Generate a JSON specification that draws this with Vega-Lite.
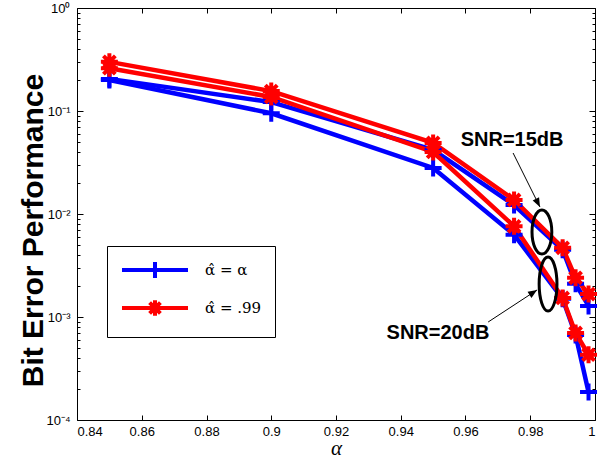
{
  "$schema": "https://vega.github.io/schema/vega-lite/v6.json",
  "width": 518,
  "height": 412,
  "autosize": {"type": "none"},
  "padding": {"left": 77, "top": 8, "right": 13, "bottom": 39},
  "background": "white",
  "config": {
    "view": {"stroke": "black", "strokeWidth": 1},
    "axis": {"grid": false, "domainColor": "black", "tickColor": "black", "labelColor": "black", "labelFont": "Liberation Sans", "labelFontSize": 13, "titleColor": "black"},
    "legend": {
      "orient": "none", "legendX": 30, "legendY": 238, "title": null,
      "padding": 13, "strokeColor": "black", "fillColor": "white",
      "symbolSize": 324, "symbolStrokeWidth": 4, "symbolOffset": 24, "labelOffset": 39,
      "labelFont": "DejaVu Serif", "labelFontSize": 15, "labelColor": "black", "rowPadding": 5,
      "labelExpr": "datum.label + '\u00a0\u00a0\u00a0\u00a0\u00a0\u00a0\u00a0\u00a0'"
    }
  },
  "datasets": {
    "ber": [
      {"a": 0.85, "ber": 0.205, "snr": "15 dB", "method": "α̂ = α"},
      {"a": 0.9, "ber": 0.122, "snr": "15 dB", "method": "α̂ = α"},
      {"a": 0.95, "ber": 0.042, "snr": "15 dB", "method": "α̂ = α"},
      {"a": 0.975, "ber": 0.0122, "snr": "15 dB", "method": "α̂ = α"},
      {"a": 0.99, "ber": 0.0045, "snr": "15 dB", "method": "α̂ = α"},
      {"a": 0.994, "ber": 0.0021, "snr": "15 dB", "method": "α̂ = α"},
      {"a": 0.998, "ber": 0.00128, "snr": "15 dB", "method": "α̂ = α"},
      {"a": 0.85, "ber": 0.2, "snr": "20 dB", "method": "α̂ = α"},
      {"a": 0.9, "ber": 0.095, "snr": "20 dB", "method": "α̂ = α"},
      {"a": 0.95, "ber": 0.028, "snr": "20 dB", "method": "α̂ = α"},
      {"a": 0.975, "ber": 0.0063, "snr": "20 dB", "method": "α̂ = α"},
      {"a": 0.99, "ber": 0.0015, "snr": "20 dB", "method": "α̂ = α"},
      {"a": 0.994, "ber": 0.00067, "snr": "20 dB", "method": "α̂ = α"},
      {"a": 0.998, "ber": 0.000187, "snr": "20 dB", "method": "α̂ = α"},
      {"a": 0.85, "ber": 0.3, "snr": "15 dB", "method": "α̂ = .99"},
      {"a": 0.9, "ber": 0.156, "snr": "15 dB", "method": "α̂ = .99"},
      {"a": 0.95, "ber": 0.049, "snr": "15 dB", "method": "α̂ = .99"},
      {"a": 0.975, "ber": 0.0137, "snr": "15 dB", "method": "α̂ = .99"},
      {"a": 0.99, "ber": 0.0047, "snr": "15 dB", "method": "α̂ = .99"},
      {"a": 0.994, "ber": 0.0024, "snr": "15 dB", "method": "α̂ = .99"},
      {"a": 0.998, "ber": 0.00167, "snr": "15 dB", "method": "α̂ = .99"},
      {"a": 0.85, "ber": 0.26, "snr": "20 dB", "method": "α̂ = .99"},
      {"a": 0.9, "ber": 0.137, "snr": "20 dB", "method": "α̂ = .99"},
      {"a": 0.95, "ber": 0.04, "snr": "20 dB", "method": "α̂ = .99"},
      {"a": 0.975, "ber": 0.0076, "snr": "20 dB", "method": "α̂ = .99"},
      {"a": 0.99, "ber": 0.00153, "snr": "20 dB", "method": "α̂ = .99"},
      {"a": 0.994, "ber": 0.0007, "snr": "20 dB", "method": "α̂ = .99"},
      {"a": 0.998, "ber": 0.00043, "snr": "20 dB", "method": "α̂ = .99"}
    ]
  },
  "resolve": {"axis": {"x": "independent", "y": "independent"}},
  "layer": [
    {
      "data": {"name": "ber"},
      "mark": {"type": "line", "strokeWidth": 4.5},
      "encoding": {
        "x": {
          "field": "a", "type": "quantitative",
          "scale": {"domain": [0.84, 1], "nice": false, "zero": false},
          "axis": {
            "orient": "bottom",
            "values": [0.84, 0.86, 0.88, 0.9, 0.92, 0.94, 0.96, 0.98, 1],
            "format": "~g", "tickSize": -5, "labelPadding": 10, "domain": false,
            "title": "α", "titleFont": "Liberation Serif", "titleFontStyle": "italic", "titleFontWeight": "normal", "titleFontSize": 21,
            "titleY": 34, "titleBaseline": "alphabetic"
          }
        },
        "y": {
          "field": "ber", "type": "quantitative",
          "scale": {"type": "log", "domain": [0.0001, 1], "nice": false},
          "axis": {
            "orient": "left",
            "values": [0.0001, 0.0002, 0.0003, 0.0004, 0.0005, 0.0006, 0.0007, 0.0008, 0.0009, 0.001, 0.002, 0.003, 0.004, 0.005, 0.006, 0.007, 0.008, 0.009, 0.01, 0.02, 0.03, 0.04, 0.05, 0.06, 0.07, 0.08, 0.09, 0.1, 0.2, 0.3, 0.4, 0.5, 0.6, 0.7, 0.8, 0.9, 1],
            "labelExpr": "abs(log(datum.value)/LN10 - round(log(datum.value)/LN10)) < 0.001 ? '10' + ['⁰','⁻¹','⁻²','⁻³','⁻⁴'][-round(log(datum.value)/LN10)] : ''",
            "tickSize": {"condition": {"test": "abs(log(datum.value)/LN10 - round(log(datum.value)/LN10)) < 0.001", "value": -6}, "value": -3},
            "labelPadding": 13, "domain": false,
            "title": "Bit Error Performance", "titleFont": "Liberation Sans", "titleFontWeight": "bold", "titleFontSize": 30,
            "titleX": -44, "titleY": 222, "titleAngle": -90, "titleAlign": "center", "titleBaseline": "middle"
          }
        },
        "color": {
          "field": "method", "type": "nominal",
          "scale": {"domain": ["α̂ = α", "α̂ = .99"], "range": ["#0000ff", "#ff0000"]}
        },
        "detail": {"field": "snr"}
      }
    },
    {
      "data": {"name": "ber"},
      "transform": [{"filter": "datum.method === 'α̂ = α'"}],
      "mark": {"type": "point", "shape": "M-1,0L1,0M0,-1L0,1", "filled": false, "strokeWidth": 4, "opacity": 1, "size": 289},
      "encoding": {
        "x": {"field": "a", "type": "quantitative", "axis": null},
        "y": {"field": "ber", "type": "quantitative", "axis": null},
        "color": {"field": "method", "type": "nominal"}
      }
    },
    {
      "data": {"name": "ber"},
      "transform": [{"filter": "datum.method === 'α̂ = .99'"}],
      "mark": {"type": "point", "shape": "M-1,0L1,0M0,-1L0,1M-0.7,-0.7L0.7,0.7M-0.7,0.7L0.7,-0.7", "filled": false, "strokeWidth": 4, "opacity": 1, "size": 289},
      "encoding": {
        "x": {"field": "a", "type": "quantitative", "axis": null},
        "y": {"field": "ber", "type": "quantitative", "axis": null},
        "color": {"field": "method", "type": "nominal"}
      }
    },
    {
      "data": {"name": "ber"},
      "transform": [{"filter": "datum.a > 1"}],
      "mark": {"type": "point", "filled": false, "strokeWidth": 4, "opacity": 1},
      "encoding": {
        "x": {"field": "a", "type": "quantitative", "axis": null},
        "y": {"field": "ber", "type": "quantitative", "axis": null},
        "color": {"field": "method", "type": "nominal"},
        "shape": {
          "field": "method", "type": "nominal",
          "scale": {"domain": ["α̂ = α", "α̂ = .99"], "range": ["M-3.667,0L3.667,0M0,-0.9L0,0.9", "M-3.667,0L3.667,0M0,-0.85L0,0.85M-0.6,-0.6L0.6,0.6M-0.6,0.6L0.6,-0.6"]}
        }
      }
    },
    {
      "data": {"values": [{"a": 0.9836, "ber": 0.00669}]},
      "mark": {"type": "point", "shape": "M0,-1 A0.45,1,0,1,1,0,1 A0.45,1,0,1,1,0,-1 Z", "filled": false, "stroke": "black", "strokeWidth": 3, "size": 1936, "opacity": 1},
      "encoding": {
        "x": {
          "field": "a", "type": "quantitative",
          "axis": {"orient": "top", "values": [0.84, 0.86, 0.88, 0.9, 0.92, 0.94, 0.96, 0.98, 1], "labels": false, "tickSize": -5, "domain": false, "title": null}
        },
        "y": {
          "field": "ber", "type": "quantitative",
          "axis": {
            "orient": "right", "labels": false, "domain": false, "title": null,
            "values": [0.0001, 0.0002, 0.0003, 0.0004, 0.0005, 0.0006, 0.0007, 0.0008, 0.0009, 0.001, 0.002, 0.003, 0.004, 0.005, 0.006, 0.007, 0.008, 0.009, 0.01, 0.02, 0.03, 0.04, 0.05, 0.06, 0.07, 0.08, 0.09, 0.1, 0.2, 0.3, 0.4, 0.5, 0.6, 0.7, 0.8, 0.9, 1],
            "tickSize": {"condition": {"test": "abs(log(datum.value)/LN10 - round(log(datum.value)/LN10)) < 0.001", "value": -6}, "value": -3}
          }
        }
      }
    },
    {
      "data": {"values": [{"a": 0.9855, "ber": 0.00209}]},
      "mark": {"type": "point", "shape": "M0,-1 A0.33,1,0,1,1,0,1 A0.33,1,0,1,1,0,-1 Z", "filled": false, "stroke": "black", "strokeWidth": 3, "size": 2916, "opacity": 1},
      "encoding": {
        "x": {"field": "a", "type": "quantitative", "axis": null},
        "y": {"field": "ber", "type": "quantitative", "axis": null}
      }
    },
    {
      "data": {"values": [
        {"a": 0.9747, "ber": 0.0391, "a2": 0.983, "ber2": 0.0117},
        {"a": 0.967, "ber": 0.000894, "a2": 0.9821, "ber2": 0.00183}
      ]},
      "mark": {"type": "rule", "stroke": "black", "strokeWidth": 1},
      "encoding": {
        "x": {"field": "a", "type": "quantitative", "axis": null},
        "y": {"field": "ber", "type": "quantitative", "axis": null},
        "x2": {"field": "a2"},
        "y2": {"field": "ber2"}
      }
    },
    {
      "data": {"values": [{"a": 0.983, "ber": 0.0117}]},
      "mark": {"type": "point", "shape": "M0,0L-0.4,1L0.4,1Z", "filled": true, "fill": "black", "strokeWidth": 0, "size": 324, "angle": 153, "opacity": 1},
      "encoding": {
        "x": {"field": "a", "type": "quantitative", "axis": null},
        "y": {"field": "ber", "type": "quantitative", "axis": null}
      }
    },
    {
      "data": {"values": [{"a": 0.9821, "ber": 0.00183}]},
      "mark": {"type": "point", "shape": "M0,0L-0.4,1L0.4,1Z", "filled": true, "fill": "black", "strokeWidth": 0, "size": 324, "angle": 57, "opacity": 1},
      "encoding": {
        "x": {"field": "a", "type": "quantitative", "axis": null},
        "y": {"field": "ber", "type": "quantitative", "axis": null}
      }
    },
    {
      "data": {"values": [
        {"a": 0.9744, "ber": 0.0523, "label": "SNR=15dB"},
        {"a": 0.9515, "ber": 0.0007, "label": "SNR=20dB"}
      ]},
      "mark": {"type": "text", "font": "Liberation Sans", "fontWeight": "bold", "fontSize": 20, "align": "center", "baseline": "middle", "color": "black"},
      "encoding": {
        "x": {"field": "a", "type": "quantitative", "axis": null},
        "y": {"field": "ber", "type": "quantitative", "axis": null},
        "text": {"field": "label"}
      }
    }
  ]
}
